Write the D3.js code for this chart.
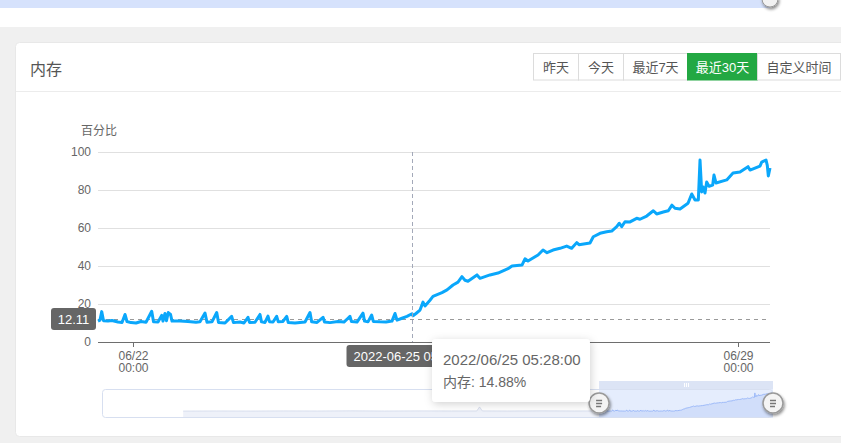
<!DOCTYPE html>
<html><head><meta charset="utf-8">
<script src="https://cdn.jsdelivr.net/npm/d3@7/dist/d3.min.js"></script>
<style>
body{margin:0;background:#f0f0f0;overflow:hidden;font-family:"Liberation Sans","Noto Sans CJK SC",sans-serif;}
svg{display:block}
text{font-family:"Liberation Sans","Noto Sans CJK SC",sans-serif;}
</style></head><body><svg id="c" width="841" height="443"></svg>
<script>
// ---------- data ----------
const times = [
"2022-06-21 14:17","2022-06-21 14:50","2022-06-21 15:19","2022-06-21 15:49","2022-06-21 17:04","2022-06-21 18:10","2022-06-21 19:50","2022-06-21 20:57","2022-06-21 21:47","2022-06-21 22:20",
"2022-06-21 23:27","2022-06-22 00:50","2022-06-22 02:13","2022-06-22 03:37","2022-06-22 05:12","2022-06-22 05:42","2022-06-22 06:57","2022-06-22 07:58","2022-06-22 08:20","2022-06-22 08:53",
"2022-06-22 09:18","2022-06-22 09:48","2022-06-22 10:25","2022-06-22 10:50","2022-06-22 13:03","2022-06-22 15:16","2022-06-22 17:30","2022-06-22 18:36","2022-06-22 20:00","2022-06-22 20:33",
"2022-06-22 21:56","2022-06-22 23:15","2022-06-22 23:45","2022-06-23 01:33","2022-06-23 03:24","2022-06-23 03:54","2022-06-23 05:43","2022-06-23 06:49","2022-06-23 07:56","2022-06-23 08:21",
"2022-06-23 09:53","2022-06-23 11:16","2022-06-23 11:41","2022-06-23 12:39","2022-06-23 13:29","2022-06-23 13:54","2022-06-23 14:53","2022-06-23 15:54","2022-06-23 16:21","2022-06-23 17:39",
"2022-06-23 18:41","2022-06-23 19:07","2022-06-23 20:59","2022-06-23 22:22","2022-06-23 23:46","2022-06-24 01:09","2022-06-24 01:37","2022-06-24 03:06","2022-06-24 04:46","2022-06-24 05:11",
"2022-06-24 06:42","2022-06-24 08:56","2022-06-24 10:35","2022-06-24 11:42","2022-06-24 12:15","2022-06-24 12:40","2022-06-24 14:12","2022-06-24 15:52","2022-06-24 16:17","2022-06-24 17:15",
"2022-06-24 18:17","2022-06-24 18:44","2022-06-24 20:35","2022-06-24 22:15","2022-06-24 23:55","2022-06-25 00:45","2022-06-25 01:19","2022-06-25 02:42","2022-06-25 04:05","2022-06-25 05:28",
"2022-06-25 05:45","2022-06-25 06:35","2022-06-25 07:42","2022-06-25 08:32","2022-06-25 09:05","2022-06-25 10:28","2022-06-25 11:18","2022-06-25 13:48","2022-06-25 15:12","2022-06-25 16:52",
"2022-06-25 18:15","2022-06-25 19:21","2022-06-25 20:11","2022-06-25 21:01","2022-06-25 23:31","2022-06-26 00:21","2022-06-26 03:08","2022-06-26 05:21","2022-06-26 08:08","2022-06-26 09:15",
"2022-06-26 12:01","2022-06-26 12:51","2022-06-26 13:41","2022-06-26 16:28","2022-06-26 17:51","2022-06-26 18:58","2022-06-26 20:38","2022-06-26 22:34","2022-06-27 00:26","2022-06-27 01:49",
"2022-06-27 03:13","2022-06-27 03:51","2022-06-27 06:54","2022-06-27 07:49","2022-06-27 09:41","2022-06-27 11:32","2022-06-27 12:56","2022-06-27 14:19","2022-06-27 15:02","2022-06-27 15:42",
"2022-06-27 16:37","2022-06-27 18:01","2022-06-27 19:52","2022-06-27 20:47","2022-06-27 22:39","2022-06-28 00:29","2022-06-28 01:25","2022-06-28 03:15","2022-06-28 04:39","2022-06-28 05:40",
"2022-06-28 06:30","2022-06-28 07:54","2022-06-28 10:07","2022-06-28 11:09","2022-06-28 12:04","2022-06-28 12:59","2022-06-28 13:27","2022-06-28 13:55","2022-06-28 14:17","2022-06-28 14:50",
"2022-06-28 15:18","2022-06-28 15:57","2022-06-28 16:58","2022-06-28 17:20","2022-06-28 17:53","2022-06-28 20:52","2022-06-28 22:37","2022-06-29 00:33","2022-06-29 02:47","2022-06-29 03:20",
"2022-06-29 06:06","2022-06-29 06:35","2022-06-29 07:46","2022-06-29 08:08","2022-06-29 08:25","2022-06-29 08:53"
];
const memory = [
11.0,11.5,16.0,11.2,11.0,11.3,10.5,10.3,14.5,10.8,
10.2,10.0,10.8,10.4,16.2,10.6,10.5,14.0,11.0,15.0,
11.2,15.5,14.5,11.0,11.0,10.8,10.4,10.6,15.2,10.4,
10.6,15.5,10.3,10.0,13.5,10.2,10.5,10.0,13.0,10.3,
10.4,14.5,10.6,10.3,13.6,10.7,10.5,13.5,10.6,10.8,
13.5,10.2,10.0,10.3,10.5,15.5,10.6,10.3,13.0,10.5,
10.2,10.8,10.5,12.5,13.5,10.8,10.5,15.2,11.0,10.6,
14.2,10.8,10.6,10.5,11.0,15.0,11.5,12.5,13.5,14.88,
13.8,15.0,16.8,21.0,19.0,22.0,24.0,26.0,27.4,30.0,
31.5,34.4,32.5,32.0,35.3,33.5,35.3,36.3,38.6,40.0,
40.5,43.8,42.6,45.8,48.4,47.0,48.4,49.3,50.5,49.3,
52.3,51.2,52.1,55.4,57.2,58.0,58.4,60.7,62.5,60.7,
63.3,63.2,65.1,64.6,66.3,69.1,67.4,68.4,69.1,72.0,
70.4,70.0,73.0,77.9,74.7,74.8,95.8,79.0,81.6,78.4,
84.2,82.0,82.6,87.9,83.7,85.3,88.9,89.5,92.3,90.5,
92.6,94.7,95.8,93.0,87.4,91.6
];
// earlier data, only visible in the zoom slider
const historyTimes = ["2022-06-03 00:00","2022-06-04 12:00","2022-06-06 00:00","2022-06-07 12:00","2022-06-09 00:00","2022-06-10 12:00","2022-06-12 00:00","2022-06-13 12:00","2022-06-15 00:00","2022-06-16 03:00","2022-06-16 06:00","2022-06-16 09:00","2022-06-17 12:00","2022-06-19 00:00","2022-06-20 12:00","2022-06-21 12:00"];
const historyValues = [10.5,11.0,10.6,11.2,10.8,11.5,10.7,11.3,10.9,11.0,30.0,11.2,10.8,11.4,10.9,11.0];
const sliderRange = ["2022-05-30 08:53","2022-06-29 08:53"];
const yTicks = [0,20,40,60,80,100];
const xTicks = ["2022-06-22 00:00","2022-06-29 00:00"];
const buttons = ["昨天","今天","最近7天","最近30天","自定义时间"];
const activeButton = "最近30天";
const markValue = 12.11;
const hoverTime = "2022-06-25 05:28";
const hoverValue = 14.88;
const seriesName = "内存";
const yName = "百分比";

// ---------- drawing ----------
const parse = d3.timeParse("%Y-%m-%d %H:%M");
const data = times.map((t,i)=>({t:parse(t), v:memory[i]}));
const hist = historyTimes.map((t,i)=>({t:parse(t), v:historyValues[i]}));
const all = hist.concat(data);

const svg = d3.select("#c");
const defs = svg.append("defs");
const sh = defs.append("filter").attr("id","sh").attr("x","-20%").attr("y","-30%").attr("width","140%").attr("height","170%");
sh.append("feDropShadow").attr("dx",1).attr("dy",2).attr("stdDeviation",4).attr("flood-color","#000").attr("flood-opacity",0.18);
const sh2 = defs.append("filter").attr("id","sh2").attr("x","-50%").attr("y","-50%").attr("width","200%").attr("height","200%");
sh2.append("feDropShadow").attr("dx",1).attr("dy",2).attr("stdDeviation",1.5).attr("flood-color","#000").attr("flood-opacity",0.45);

// top strip (previous panel remnant)
svg.append("rect").attr("x",0).attr("y",0).attr("width",841).attr("height",27).attr("fill","#fff");
svg.append("rect").attr("x",0).attr("y",0).attr("width",770).attr("height",8).attr("fill","#d6e2fc");
svg.append("circle").attr("cx",770).attr("cy",-1).attr("r",8).attr("fill","#f2f2f2").attr("stroke","#999").attr("filter","url(#sh2)");

// card
svg.append("rect").attr("x",15.5).attr("y",42.5).attr("width",840).attr("height",394).attr("rx",4)
  .attr("fill","#fff").attr("stroke","#e8e8e8");
svg.append("line").attr("x1",16).attr("x2",841).attr("y1",91.5).attr("y2",91.5).attr("stroke","#ececec");
svg.append("text").attr("x",30).attr("y",75).attr("font-size",16).attr("fill","#555").text(seriesName);

// buttons
const bEdges = [533.5,578.5,623.5,687.5,757.5,840.5];
buttons.forEach((b,i)=>{
  const x0=bEdges[i], x1=bEdges[i+1], act = b===activeButton;
  svg.append("rect").attr("x",x0).attr("y",53.5).attr("width",x1-x0).attr("height",26.5)
    .attr("fill",act?"#23a843":"#fff").attr("stroke",act?"#23a843":"#dcdcdc");
  svg.append("text").attr("x",(x0+x1)/2).attr("y",71.5).attr("text-anchor","middle").attr("font-size",13)
    .attr("fill",act?"#fff":"#555").text(b);
});

// scales
const x = d3.scaleTime().domain(d3.extent(data,d=>d.t)).range([98,770]);
const y = d3.scaleLinear().domain([0,100]).range([342,152]);

// grid
const g = svg.append("g");
g.selectAll(".grid").data(yTicks.filter(d=>d>0)).enter().append("line")
  .attr("x1",98).attr("x2",770).attr("y1",d=>Math.round(y(d))+0.5).attr("y2",d=>Math.round(y(d))+0.5)
  .attr("stroke","#e0e0e0");
// y axis labels
const yAxis = d3.axisLeft(y).tickValues(yTicks).tickSize(0).tickPadding(7);
const ya = svg.append("g").attr("transform","translate(98,0)").call(yAxis);
ya.select(".domain").remove();
ya.selectAll("text").attr("font-size",12).attr("fill","#666").attr("font-family",null);
svg.append("text").attr("x",99).attr("y",135).attr("text-anchor","middle").attr("font-size",12).attr("fill","#666").text(yName);

// x axis
const fmtA = d3.timeFormat("%m/%d"), fmtB = d3.timeFormat("%H:%M");
const xAxis = d3.axisBottom(x).tickValues(xTicks.map(parse)).tickSize(5).tickFormat(()=>"" );
const xa = svg.append("g").attr("transform","translate(0,342)").call(xAxis);
xa.select(".domain").attr("stroke","#6e6e6e").attr("d","M98,0.5H770");
xa.selectAll(".tick line").attr("stroke","#6e6e6e");
xa.selectAll(".tick text").remove();
xa.selectAll(".tick").each(function(d){
  const tk = d3.select(this);
  tk.append("text").attr("x",0).attr("y",18).attr("text-anchor","middle").attr("font-size",12).attr("fill","#666").text(fmtA(d));
  tk.append("text").attr("x",0).attr("y",30).attr("text-anchor","middle").attr("font-size",12).attr("fill","#666").text(fmtB(d));
});

// mark line at value
const my = Math.round(y(markValue))+0.5;
svg.append("line").attr("x1",98).attr("x2",770).attr("y1",my).attr("y2",my)
  .attr("stroke","#9a9a9a").attr("stroke-dasharray","4,4");

// series line
const line = d3.line().x(d=>x(d.t)).y(d=>y(d.v));
svg.append("path").datum(data).attr("d",line).attr("fill","none")
  .attr("stroke","#0aa7fb").attr("stroke-width",3).attr("stroke-linejoin","round");

// axis pointer
const hx = Math.round(x(parse(hoverTime)))+0.5;
svg.append("line").attr("x1",hx).attr("x2",hx).attr("y1",152).attr("y2",342)
  .attr("stroke","#a3a9b9").attr("stroke-dasharray","4,3");

// y pointer label
svg.append("rect").attr("x",51).attr("y",308).attr("width",45).attr("height",22).attr("rx",3).attr("fill","#666");
svg.append("text").attr("x",73.5).attr("y",323.5).attr("text-anchor","middle").attr("font-size",13).attr("fill","#fff").text(markValue.toFixed(2));

// x pointer label
const xlab = d3.timeFormat("%Y-%m-%d %H:%M")(parse(hoverTime));
svg.append("rect").attr("x",hx-66).attr("y",345).attr("width",118).attr("height",22).attr("rx",3).attr("fill","#666");
svg.append("text").attr("x",hx-59).attr("y",360.5).attr("font-size",13).attr("fill","#fff").text(xlab);

// ---------- slider ----------
const sx = d3.scaleTime().domain(sliderRange.map(parse)).range([102,773]);
const sy = d3.scaleLinear().domain([0,100]).range([413.3,392]);
const selX0 = sx(data[0].t), selX1 = sx(data[data.length-1].t);
const sArea = d3.area().x(d=>sx(d.t)).y0(417).y1(d=>sy(d.v));
const sLine = d3.line().x(d=>sx(d.t)).y(d=>sy(d.v));
defs.append("clipPath").attr("id","selc").append("rect").attr("x",selX0).attr("y",380).attr("width",selX1-selX0).attr("height",40);
defs.append("clipPath").attr("id","unselc").append("rect").attr("x",100).attr("y",380).attr("width",selX0-100).attr("height",40);
// unselected
svg.append("path").datum(all).attr("d",sArea).attr("fill","#eef1f9").attr("clip-path","url(#unselc)");
svg.append("path").datum(all).attr("d",sLine).attr("fill","none").attr("stroke","#d0d8ea").attr("stroke-width",0.8).attr("clip-path","url(#unselc)");
// selected filler
svg.append("rect").attr("x",selX0).attr("y",389).attr("width",selX1-selX0).attr("height",29).attr("fill","#e5edfd");
svg.append("path").datum(all).attr("d",sArea).attr("fill","#d1defa").attr("clip-path","url(#selc)");
svg.append("path").datum(all).attr("d",sLine).attr("fill","none").attr("stroke","#8fb0f7").attr("stroke-width",0.8).attr("clip-path","url(#selc)");
// border
svg.append("rect").attr("x",102.5).attr("y",389.5).attr("width",670).attr("height",28).attr("rx",3)
  .attr("fill","none").attr("stroke","#d7dff0");
// move handle
svg.append("rect").attr("x",selX0).attr("y",381).attr("width",selX1-selX0).attr("height",8).attr("fill","#dce4f5");
[-2,0,2].forEach(o=>svg.append("line").attr("x1",(selX0+selX1)/2+o+0.5).attr("x2",(selX0+selX1)/2+o+0.5)
  .attr("y1",383).attr("y2",387).attr("stroke","#fff"));
// handles
[selX0, selX1].forEach(hx2=>{
  const hg = svg.append("g").attr("transform",`translate(${hx2},403)`).attr("filter","url(#sh2)");
  hg.append("circle").attr("r",10).attr("fill","#f4f4f4").attr("stroke","#9a9a9a").attr("stroke-width",1.5);
  hg.append("path").attr("d","M-3,-2.5H3M-3,0.5H3M-3,3.5H2").attr("stroke","#777").attr("stroke-width",1.3).attr("fill","none");
});

// ---------- tooltip ----------
const tg = svg.append("g").attr("transform","translate(432,339)");
tg.append("rect").attr("width",158).attr("height",63).attr("rx",4).attr("fill","#fff").attr("filter","url(#sh)");
tg.append("text").attr("x",11).attr("y",26).attr("font-size",15).attr("fill","#666")
  .text(d3.timeFormat("%Y/%m/%d %H:%M:%S")(parse(hoverTime)));
tg.append("text").attr("x",11).attr("y",48).attr("font-size",14).attr("fill","#666")
  .text(`${seriesName}: ${hoverValue.toFixed(2)}%`);
</script></body></html>
